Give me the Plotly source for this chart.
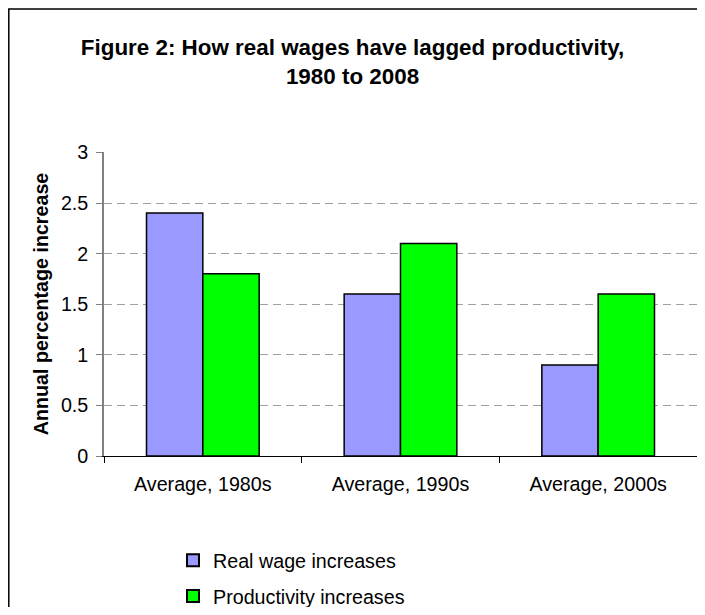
import plotly.graph_objects as go

categories = ["Average, 1980s", "Average, 1990s", "Average, 2000s"]
real_wage = [2.4, 1.6, 0.9]
productivity = [1.8, 2.1, 1.6]
series_names = ["Real wage increases", "Productivity increases"]
y_ticks = [0, 0.5, 1, 1.5, 2, 2.5, 3]
title_text = "<b>Figure 2: How real wages have lagged productivity,<br>1980 to 2008</b>"
y_title = "<b>Annual percentage increase</b>"

OFF = 8  # default page body margin
W, H = 689, 599
L, R, T, B = 96, 0, 144, 151
pw = W - L - R
ph = H - T - B

def px_x(p):
    return (p - OFF - L) / pw

def px_y(p):
    return (H - B - (p - OFF)) / ph

def cy(p):
    return 1 - (p - OFF) / H

FONT = "Liberation Sans, Arial, sans-serif"
FS = 19.7

fig = go.Figure()
fig.add_trace(go.Bar(x=categories, y=real_wage, name=series_names[0], legendgroup="a",
                     marker=dict(color="#9999FF", line=dict(color="#000000", width=1.5))))
fig.add_trace(go.Bar(x=categories, y=productivity, name=series_names[1], legendgroup="b",
                     marker=dict(color="#00FF00", line=dict(color="#000000", width=1.5))))

fig.update_layout(
    width=W, height=H,
    margin=dict(l=L, r=R, t=T, b=B, pad=0, autoexpand=False),
    paper_bgcolor="white", plot_bgcolor="white",
    barmode="group", bargap=0.43, bargroupgap=0,
    font=dict(family=FONT, size=FS, color="#000000"),
    title=dict(text=title_text, x=0.5, xanchor="center", xref="container",
               y=cy(55), yanchor="middle", yref="container",
               font=dict(size=22.4, family=FONT)),
    showlegend=True,
    legend=dict(x=px_x(173), xanchor="left", y=px_y(541), yanchor="top",
                orientation="v", font=dict(size=FS), itemsizing="constant",
                tracegroupgap=7, bgcolor="rgba(0,0,0,0)"),
    xaxis=dict(type="category", showline=True, linecolor="#000000", linewidth=1.2,
               ticks="outside", tickson="boundaries", ticklen=6, tickcolor="#000000",
               tickfont=dict(size=FS), showgrid=False, zeroline=False,
               ticklabelstandoff=10, automargin=False),
    yaxis=dict(range=[0, 3.004], tickvals=y_ticks, ticktext=[str(v) for v in y_ticks],
               showline=True, linecolor="#808080", linewidth=1.5,
               ticks="outside", ticklen=6, tickcolor="#808080",
               showgrid=True, gridcolor="#A0A0A0", griddash="8px,5px", gridwidth=1,
               zeroline=False, tickfont=dict(size=FS), ticklabelstandoff=4,
               automargin=False,
               title=dict(text=y_title, font=dict(size=FS), standoff=7)),
)

fig.add_shape(type="rect", xref="paper", yref="paper",
              x0=px_x(8.8), x1=px_x(720), y0=px_y(630), y1=px_y(9),
              line=dict(color="#000000", width=1.5), fillcolor="rgba(0,0,0,0)", layer="below")

fig.write_html("out.html")
